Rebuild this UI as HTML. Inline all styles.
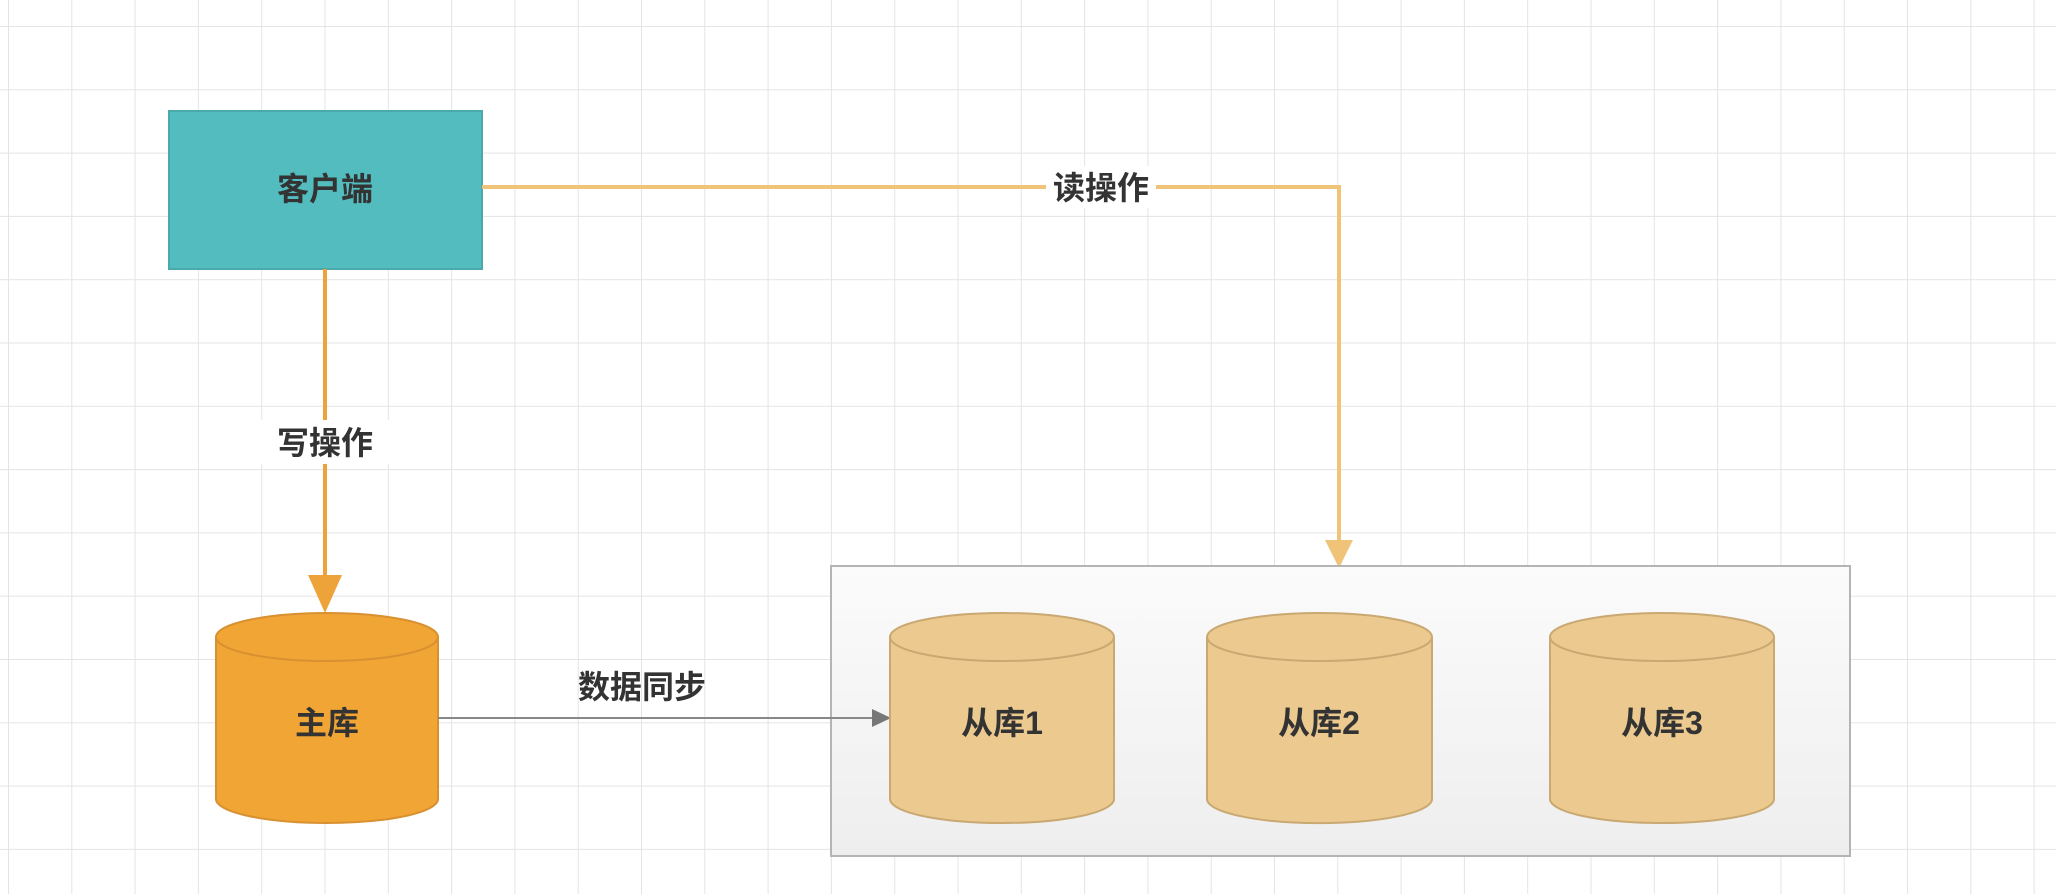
<!DOCTYPE html>
<html><head><meta charset="utf-8"><style>
html,body{margin:0;padding:0;background:#fff;}
svg{display:block;}
text{font-family:"Liberation Sans","Noto Sans CJK SC",sans-serif;font-weight:bold;fill:#333;}
</style></head><body>
<svg width="2056" height="894" viewBox="0 0 2056 894" xmlns="http://www.w3.org/2000/svg">
<defs>
<pattern id="g" x="8" y="26" width="63.3" height="63.3" patternUnits="userSpaceOnUse">
<path d="M0 0 H63.3 M0 0 V63.3" stroke="#e4e4e4" stroke-width="2" fill="none"/>
</pattern>
<linearGradient id="cg" x1="0" y1="0" x2="0" y2="1"><stop offset="0" stop-color="#fbfbfb"/><stop offset="1" stop-color="#eeeeee"/></linearGradient>
</defs>
<rect width="2056" height="894" fill="#fff"/>
<rect width="2056" height="894" fill="url(#g)"/>

<!-- client -->
<rect x="169" y="111" width="313" height="158" fill="#52bcbe" stroke="#4aa9ab" stroke-width="2"/>
<text x="325" y="200" font-size="32" text-anchor="middle">客户端</text>

<!-- read line -->
<polyline points="482,187 1339,187 1339,548" fill="none" stroke="#f0c478" stroke-width="4"/>
<polygon points="1325,540 1353,540 1339,568" fill="#f0c478"/>
<rect x="1046" y="166" width="110" height="42" fill="#fff"/>
<text x="1101" y="199" font-size="32" text-anchor="middle">读操作</text>

<!-- write line -->
<line x1="325" y1="269" x2="325" y2="590" stroke="#eea23a" stroke-width="4"/>
<polygon points="308,575 342,575 325,613" fill="#eea23a"/>
<rect x="258" y="420" width="134" height="44" fill="#fff"/>
<text x="325" y="454" font-size="32" text-anchor="middle">写操作</text>

<!-- container -->
<rect x="831" y="566" width="1019" height="290" fill="url(#cg)" stroke="#b4b4b4" stroke-width="2"/>

<!-- master -->
<path d="M216 637 V799 A111 24 0 0 0 438 799 V637" fill="#f0a535" stroke="#d89030" stroke-width="2"/>
<ellipse cx="327" cy="637" rx="111" ry="24" fill="#f0a535" stroke="#d89030" stroke-width="2"/>
<text x="327" y="734" font-size="32" text-anchor="middle">主库</text>

<!-- sync -->
<line x1="438" y1="718" x2="878" y2="718" stroke="#888" stroke-width="2"/>
<polygon points="872,709 891,718 872,727" fill="#777"/>
<text x="642" y="698" font-size="32" text-anchor="middle">数据同步</text>

<!-- slaves -->
<g fill="#ecca8f" stroke="#c9a872" stroke-width="2">
<path d="M890 637 V799 A112 24 0 0 0 1114 799 V637"/><ellipse cx="1002" cy="637" rx="112" ry="24"/>
<path d="M1207 637 V799 A112 24 0 0 0 1432 799 V637"/><ellipse cx="1319.5" cy="637" rx="112.5" ry="24"/>
<path d="M1550 637 V799 A112 24 0 0 0 1774 799 V637"/><ellipse cx="1662" cy="637" rx="112" ry="24"/>
</g>
<text x="1002" y="734" font-size="32" text-anchor="middle">从库1</text>
<text x="1319" y="734" font-size="32" text-anchor="middle">从库2</text>
<text x="1662" y="734" font-size="32" text-anchor="middle">从库3</text>
</svg>
</body></html>
